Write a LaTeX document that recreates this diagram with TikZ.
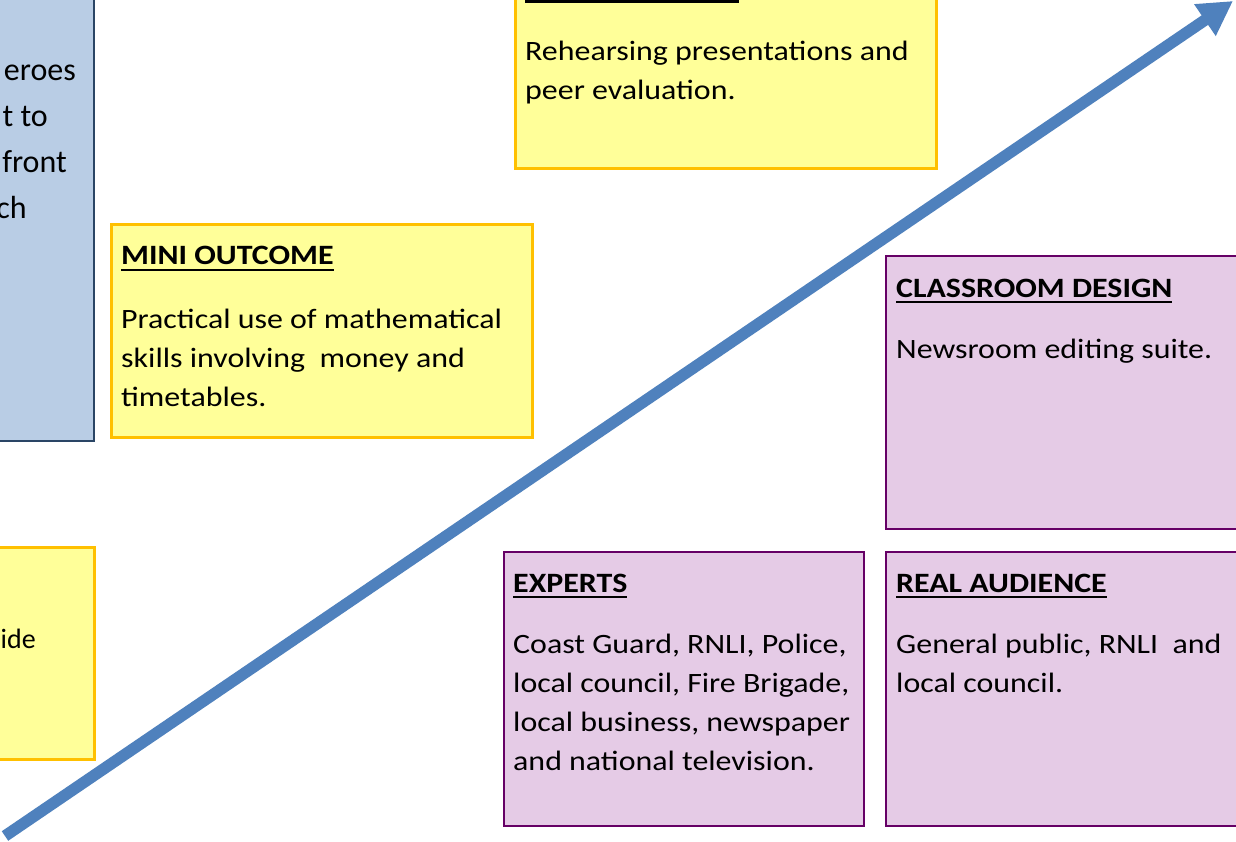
\documentclass[tikz,border=0pt]{standalone}
\usepackage{fontspec}
\setmainfont{Carlito}
\newfontfamily\widefont[FakeStretch=1.14]{Carlito}
\usetikzlibrary{arrows.meta}
\definecolor{yfill}{HTML}{FFFF99}
\definecolor{ydraw}{HTML}{FFC000}
\definecolor{pfill}{HTML}{E5CBE6}
\definecolor{pdraw}{HTML}{660066}
\definecolor{bfill}{HTML}{B9CDE5}
\definecolor{bdraw}{HTML}{2A4565}
\definecolor{arrowc}{HTML}{4F81BD}
\newcommand\myul[1]{\setbox0\hbox{#1}\rlap{\rule[-6pt]{\wd0}{2.4pt}}\box0}
\newcommand\mylines[1]{\vtop{\baselineskip=39pt \halign{##\hfil\cr #1\crcr}}}
\tikzset{
  ybox/.style={fill=yfill, draw=ydraw, line width=3pt},
  pbox/.style={fill=pfill, draw=pdraw, line width=2.5pt},
  bbox/.style={fill=bfill, draw=bdraw, line width=2pt},
  title/.style={anchor=base west, inner sep=0pt, font=\widefont\fontsize{28}{39}\selectfont\bfseries},
  body/.style={anchor=base west, inner sep=0pt, font=\widefont\fontsize{28}{39}\selectfont},
  frag/.style={anchor=base east, inner sep=0pt, font=\fontsize{32}{46}\selectfont},
  bigarrow/.style={draw=arrowc, line width=11.5pt, -{Triangle[length=34pt,width=36pt]}},
}
\begin{document}
\begin{tikzpicture}[x=1pt,y=-1pt]
\useasboundingbox (0,0) rectangle (1236,842);
\clip (0,0) rectangle (1236,842);
\fill[white] (0,0) rectangle (1236,842);
% left boxes (cut off)
\path[bbox] (-10,-10) rectangle (94,441);
\node[frag] (f1) at (76,81) {eroes};
\node[frag] (f2) at (48,127) {t to};
\node[frag] (f3) at (67,173) {front};
\node[frag] (f4) at (27,219) {ch};
\path[ybox] (-10,547) rectangle (94,759);
\node[frag, font=\fontsize{28}{39}\selectfont] (f5) at (36,648) {ide};
% top yellow box
\path[ybox] (515,-10) rectangle (936,169);
\fill[black] (525,0.5) rectangle (739,3);
\node[body] (reh) at (525,61) {\mylines{Rehearsing presentations and\cr peer evaluation.}};
% mini outcome
\path[ybox] (111,225) rectangle (532,437);
\node[title] (mini) at (121,265) {\myul{MINI OUTCOME}};
\node[body] (minib) at (121,328) {\mylines{Practical use of mathematical\cr skills involving~ money and\cr timetables.}};
% classroom design
\path[pbox] (886,256) rectangle (1250,529);
\node[title] (cd) at (896,297) {\myul{CLASSROOM DESIGN}};
\node[body] (cdb) at (896,358) {\mylines{Newsroom editing suite.}};
% experts
\path[pbox] (504,552) rectangle (864,826);
\node[title] (ex) at (513,592) {\myul{EXPERTS}};
\node[body] (exb) at (513,653) {\mylines{Coast Guard, RNLI, Police,\cr local council, Fire Brigade,\cr local business, newspaper\cr and national television.}};
% real audience
\path[pbox] (886,552) rectangle (1250,826);
\node[title] (ra) at (896,592) {\myul{REAL AUDIENCE}};
\node[body] (rab) at (896,653) {\mylines{General public, RNLI~ and\cr local council.}};
% arrow
\coordinate (astart) at (5,836);
\coordinate (aend) at (1233,1);
\draw[bigarrow] (astart) -- (aend);
\end{tikzpicture}
\end{document}
